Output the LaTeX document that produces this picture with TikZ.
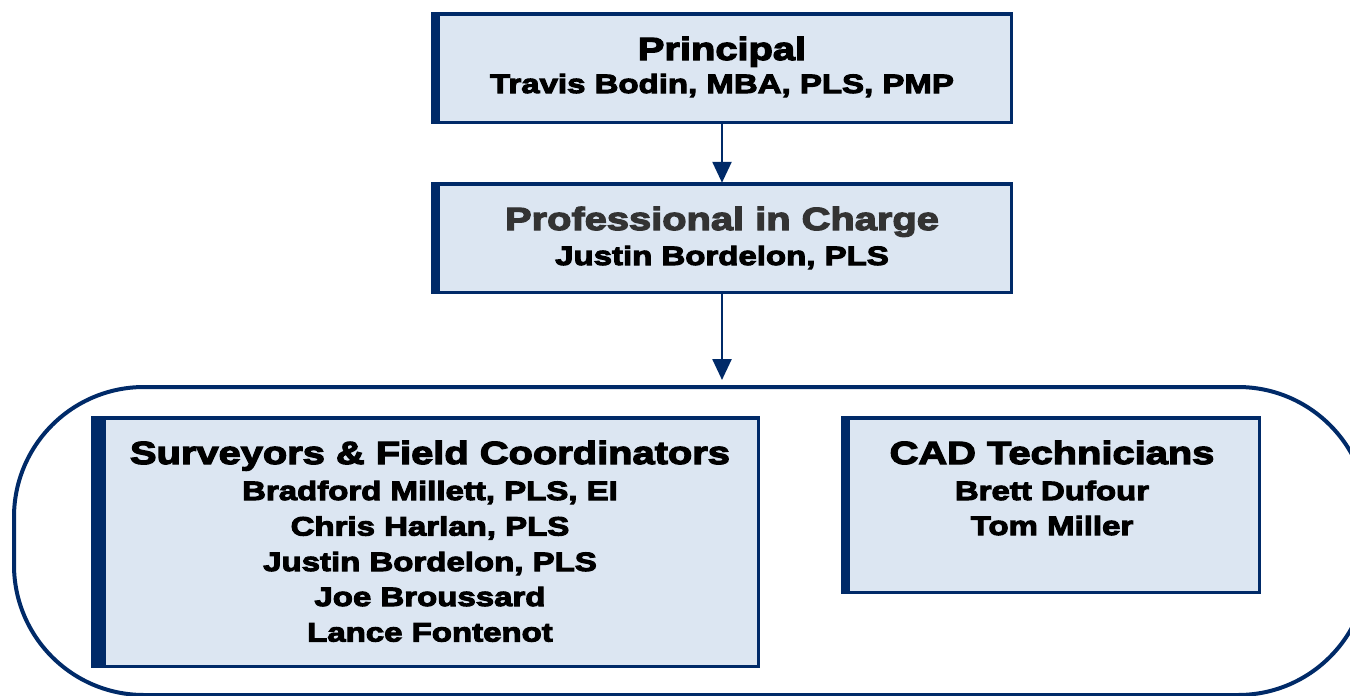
\documentclass[tikz,border=0pt]{standalone}
\usepackage{fontspec}
\newfontfamily\boxfont[UprightFont={* Bold},FakeStretch=1.245,FakeBold=4]{Liberation Sans}
\usetikzlibrary{arrows.meta}
\definecolor{navy}{RGB}{0,42,104}
\definecolor{boxfill}{RGB}{220,230,242}
\definecolor{greytext}{RGB}{51,51,51}
\begin{document}
\begin{tikzpicture}[x=1pt,y=-1pt,
  box/.style={draw=navy,fill=boxfill,line width=3.5pt,inner sep=0pt,outer sep=0pt,rectangle},
  container/.style={draw=navy,line width=4pt,rounded corners=130pt,inner sep=0pt,outer sep=0pt,rectangle},
  conn/.style={draw=navy,line width=2.6pt,-{Triangle[width=19pt,length=21pt]}},
  ttl/.style={anchor=base,inner sep=0pt,font=\boxfont\fontsize{32}{38}\selectfont},
  nm/.style={anchor=base,inner sep=0pt,font=\boxfont\fontsize{26.5}{31}\selectfont}]
\useasboundingbox (0,0) rectangle (1350,696);
\clip (0,0) rectangle (1350,696);

% container
\node[container,minimum width=1354pt,minimum height=308pt] (cont) at (691,541) {};

% boxes
\node[box,minimum width=578.5pt,minimum height=108.5pt] (p1) at (722,68) {};
\node[box,minimum width=578.5pt,minimum height=108.5pt] (p2) at (722,238) {};
\node[box,minimum width=665.5pt,minimum height=248.5pt] (sv) at (425.5,542) {};
\node[box,minimum width=416.5pt,minimum height=174.5pt] (cad) at (1051,505) {};

% left thick bars
\fill[navy] ([shift={(-1.75,-1.75)}]p1.north west) rectangle ([shift={(7.25,1.75)}]p1.south west);
\fill[navy] ([shift={(-1.75,-1.75)}]p2.north west) rectangle ([shift={(7.25,1.75)}]p2.south west);
\fill[navy] ([shift={(-1.75,-1.75)}]sv.north west) rectangle ([shift={(13.25,1.75)}]sv.south west);
\fill[navy] ([shift={(-1.75,-1.75)}]cad.north west) rectangle ([shift={(7.25,1.75)}]cad.south west);

% connectors
\draw[conn,shorten >=1pt] (p1.south) -- (p2.north);
\draw[conn,shorten >=7pt] (p2.south) -- (p2.south |- cont.north);

% texts
\node[ttl] (t1) at (722,60) {Principal};
\node[nm] (n1) at (722,93) {Travis Bodin, MBA, PLS, PMP};
\node[ttl,text=greytext] (t2) at (722,230) {Professional in Charge};
\node[nm] (n2) at (722,265) {Justin Bordelon, PLS};

\node[ttl] (t3) at (430,464) {Surveyors \& Field Coordinators};
\node[nm] (s1) at (430,500) {Bradford Millett, PLS, EI};
\node[nm] (s2) at (430,535.5) {Chris Harlan, PLS};
\node[nm] (s3) at (430,571) {Justin Bordelon, PLS};
\node[nm] (s4) at (430,606) {Joe Broussard};
\node[nm] (s5) at (430,641.5) {Lance Fontenot};

\node[ttl] (t4) at (1052,464) {CAD Technicians};
\node[nm] (c1) at (1052,500) {Brett Dufour};
\node[nm] (c2) at (1052,535) {Tom Miller};
\end{tikzpicture}
\end{document}
